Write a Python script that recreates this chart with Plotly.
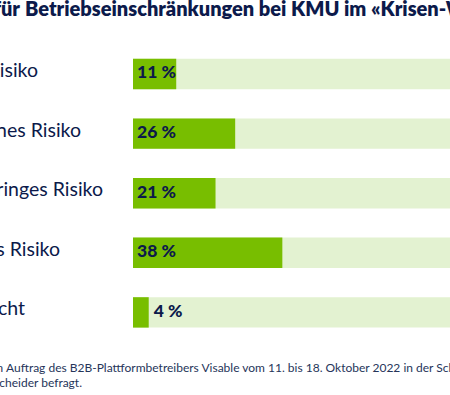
import plotly.graph_objects as go

categories = ["Grosses Risiko", "Ein kleines Risiko", "Ein geringes Risiko", "Kein grosses Risiko", "Weiss nicht"]
values = [11, 26, 21, 38, 4]
percent_labels = [f"{v} %" for v in values]

title_a = "Das Risiko für"
title_b = "Betriebseinschränkungen bei KMU im «Krisen-Winter»"
foot_a = "Die Umfrage wurde im"
foot_b = "Auftrag des B2B-Plattformbetreibers Visable vom 11. bis 18. Oktober 2022 in der Schweiz durchgeführt."
foot_c = "Befragt wurden 500 Entscheider befragt."

# layout (pixel geometry of the crop)
W, H = 450, 395
BAR_X0 = 133          # px where bars start
PX_PER_PCT = 3.93
ROW0 = 74             # px centre of first row
PITCH = 59.6          # px between rows
label_ends_px = [38, 81, 103, 60, 25]

NAVY = "#0c1a4b"
GREEN = "#78be00"
LIGHT = "#e3f2d1"
FOOT = "#26355a"
FONT = "Lato"

def ux(p):  # pixel -> x data unit
    return (p - BAR_X0) / PX_PER_PCT

def uy(p):  # pixel -> y data unit
    return (p - ROW0) / PITCH

ypos = list(range(len(categories)))

fig = go.Figure()
fig.add_trace(go.Bar(y=ypos, x=[100] * len(values), orientation="h",
                     marker=dict(color=LIGHT, line=dict(width=0)), width=0.51,
                     hoverinfo="skip", showlegend=False))
fig.add_trace(go.Bar(y=ypos, x=values, orientation="h",
                     marker=dict(color=GREEN, line=dict(width=0)), width=0.51,
                     showlegend=False))

# category labels (right-aligned at their visible end)
fig.add_trace(go.Scatter(x=[ux(e) for e in label_ends_px], y=[y - 0.03 for y in ypos], mode="text",
                         text=categories, textposition="middle left",
                         textfont=dict(family=FONT, size=19.5, color=NAVY),
                         hoverinfo="skip", showlegend=False, cliponaxis=False))

# percent labels: inside the bar start if it fits, otherwise after the bar end
pct_x = [ux(BAR_X0 + 4) if v >= 8 else v + ux(BAR_X0 + 5) for v in values]
fig.add_trace(go.Scatter(x=pct_x, y=ypos, mode="text",
                         text=percent_labels, textposition="middle right",
                         textfont=dict(family=FONT, size=17.5, color=NAVY, weight=900),
                         hoverinfo="skip", showlegend=False, cliponaxis=False))

# title
fig.add_trace(go.Scatter(x=[ux(20)], y=[uy(10.5)], mode="text", text=[title_a],
                         textposition="middle left",
                         textfont=dict(family=FONT, size=20, color=NAVY, weight=800),
                         hoverinfo="skip", showlegend=False))
fig.add_trace(go.Scatter(x=[ux(25)], y=[uy(10.5)], mode="text", text=[title_b],
                         textposition="middle right",
                         textfont=dict(family=FONT, size=20, color=NAVY, weight=800),
                         hoverinfo="skip", showlegend=False))

# footer
fig.add_trace(go.Scatter(x=[ux(3)], y=[uy(368.5)], mode="text", text=[foot_a],
                         textposition="middle left",
                         textfont=dict(family=FONT, size=12, color=FOOT),
                         hoverinfo="skip", showlegend=False))
fig.add_trace(go.Scatter(x=[ux(6)], y=[uy(368.5)], mode="text", text=[foot_b],
                         textposition="middle right",
                         textfont=dict(family=FONT, size=12, color=FOOT),
                         hoverinfo="skip", showlegend=False))
fig.add_trace(go.Scatter(x=[ux(82)], y=[uy(384)], mode="text", text=[foot_c],
                         textposition="middle left",
                         textfont=dict(family=FONT, size=12, color=FOOT),
                         hoverinfo="skip", showlegend=False))

fig.update_layout(
    width=W, height=H,
    margin=dict(l=0, r=0, t=0, b=0, pad=0),
    paper_bgcolor="white", plot_bgcolor="white",
    barmode="overlay",
    xaxis=dict(range=[ux(0), ux(W)], visible=False, fixedrange=True),
    yaxis=dict(range=[uy(H), uy(0)], visible=False, fixedrange=True),
    font=dict(family=FONT),
)

fig.write_html("out.html", config={"displayModeBar": False},
               post_script="document.body.style.margin='0';document.body.style.overflow='hidden';")
